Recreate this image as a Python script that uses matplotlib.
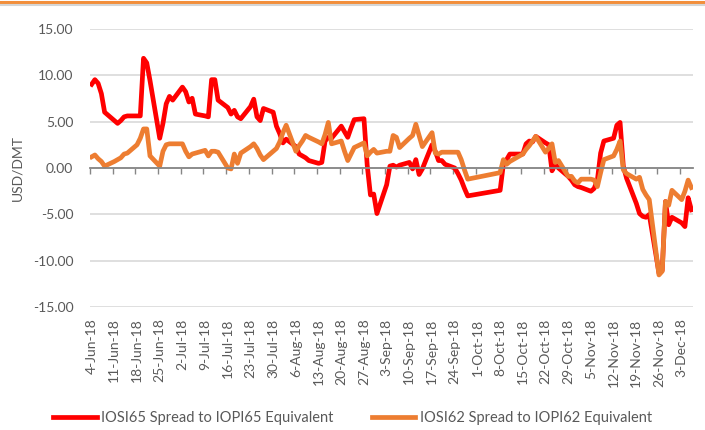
import matplotlib
matplotlib.use('Agg')
import matplotlib.pyplot as plt
import matplotlib.dates as mdates
from matplotlib.lines import Line2D
import pandas as pd

plt.rcParams['font.family'] = ['Lato', 'DejaVu Sans']

# business days, Golden Week missing from the data
holidays = ['2018-10-01', '2018-10-02', '2018-10-03', '2018-10-04', '2018-10-05']
dates = pd.bdate_range('2018-06-04', '2018-12-06')
dates = dates[~dates.isin(pd.to_datetime(holidays))]

# IOSI65 spread to IOPI65 equivalent (USD/DMT)
iosi65 = [9.0, 9.5, 9.1, 8.0, 6.0,
          5.1, 4.8, 5.1, 5.5, 5.6,
          5.6, 5.6, 11.8, 11.3, 9.4,
          3.2, 4.8, 6.9, 7.7, 7.3,
          8.7, 8.2, 7.1, 7.5, 5.8,
          5.6, 5.5, 9.5, 9.5, 7.3,
          6.5, 5.8, 6.2, 5.5, 5.3,
          6.6, 7.4, 5.5, 5.1, 6.4,
          6.0, 4.5, 3.7, 2.7, 3.1,
          2.3, 1.5, 1.3, 1.1, 0.8,
          0.5, 0.6, 2.9, 3.3, 3.2,
          4.5, 3.9, 3.3, 4.3, 5.2,
          5.3, 0.3, -2.9, -2.8, -4.9,
          -1.8, 0.2, 0.3, 0.1, 0.3,
          0.6, -0.1, 0.9, -0.7, -0.1,
          2.5, 1.8, 0.8, 0.8, 0.4,
          0.0, -0.6, -1.3, -2.2, -3.0,
          -2.4, 0.4, 0.9, 1.5, 1.5,
          1.5, 2.6, 2.9, 2.8, 3.4,
          2.7, 2.5, -0.3, 0.4, 0.0,
          -0.9, -1.3, -1.8, -2.0, -2.1,
          -2.5, -2.2, -1.3, 1.6, 2.9,
          3.2, 4.6, 4.9, 0.2, -1.1,
          -3.8, -4.9, -5.2, -5.3, -5.0,
          -11.3, -11.0, -3.6, -6.1, -5.3,
          -5.9, -6.3, -3.2, -4.5]

# IOSI62 spread to IOPI62 equivalent (USD/DMT)
iosi62 = [1.2, 1.4, 1.0, 0.7, 0.2,
          0.7, 0.9, 1.1, 1.5, 1.6,
          2.5, 3.2, 4.2, 4.2, 1.3,
          0.2, 1.8, 2.5, 2.6, 2.6,
          2.6, 1.8, 1.2, 1.5, 1.6,
          1.9, 1.3, 1.8, 1.8, 1.7,
          0.0, -0.1, 1.5, 0.5, 1.6,
          2.3, 2.6, 2.1, 1.4, 0.9,
          1.8, 2.1, 2.8, 3.8, 4.6,
          1.8, 2.4, 2.9, 3.5, 3.3,
          2.8, 2.6, 3.6, 4.9, 2.6,
          2.9, 1.8, 0.8, 1.5, 2.2,
          2.7, 1.3, 1.7, 2.0, 1.6,
          1.8, 1.8, 3.5, 3.3, 2.2,
          3.2, 3.5, 4.7, 3.5, 2.3,
          3.8, 1.6, 1.5, 1.7, 1.7,
          1.7, 1.7, 0.9, -0.2, -1.2,
          -0.5, 0.9, 0.4, 0.7, 0.9,
          1.5, 2.0, 2.4, 2.9, 3.4,
          1.7, 2.1, 2.6, 0.6, 0.8,
          -0.9, -0.9, -1.4, -1.6, -1.2,
          -1.2, -1.3, -2.0, -0.5, 0.9,
          1.3, 2.0, 2.9, -0.2, -0.6,
          -1.2, -1.0, -2.3, -2.9, -3.4,
          -11.5, -11.1, -3.6, -4.0, -2.4,
          -3.4, -2.5, -1.3, -2.1]

week_ticks = pd.date_range('2018-06-04', '2018-12-03', freq='7D')
tick_labels = [f"{d.day}-{d.strftime('%b')}-18" for d in week_ticks]
y_ticks = [-15, -10, -5, 0, 5, 10, 15]

grey_txt = '#595959'

fig = plt.figure(figsize=(7.05, 4.3), dpi=100)
ax = fig.add_axes([0.1277, 0.2849, 0.8553, 0.6488])

ax.plot(dates, iosi65, color='#FF0000', lw=3.4, solid_joinstyle='round',
        label='IOSI65 Spread to IOPI65 Equivalent')
ax.plot(dates, iosi62, color='#ED7D31', lw=3.4, solid_joinstyle='round',
        label='IOSI62 Spread to IOPI62 Equivalent')

start = mdates.date2num(pd.Timestamp('2018-06-04')) - 0.5
end = mdates.date2num(pd.Timestamp('2018-12-06')) + 0.5
ax.set_xlim(start, end)
ax.set_ylim(-15, 15)

# y axis
ax.set_yticks(y_ticks)
ax.set_yticklabels([f'{v:.2f}' for v in y_ticks])
ax.tick_params(axis='y', length=0, pad=12, labelcolor=grey_txt, labelsize=10)
ax.yaxis.grid(True, color='#D9D9D9', lw=1.2)
ax.set_axisbelow(True)
ax.set_ylabel('USD/DMT', color=grey_txt, fontsize=10)
ax.yaxis.set_label_coords(-0.11, 0.5)

for s in ['top', 'right', 'left']:
    ax.spines[s].set_visible(False)
ax.spines['bottom'].set_position(('data', 0))
ax.spines['bottom'].set_color('#868686')
ax.spines['bottom'].set_linewidth(1.3)

# tick marks on the zero line, between the daily slots
ax.set_xticks(mdates.date2num(week_ticks) - 0.5)
ax.tick_params(axis='x', direction='out', length=4, width=1, color='#868686',
               labelbottom=False)

# labels below the plot
sec = ax.secondary_xaxis('bottom')
sec.set_xticks(mdates.date2num(week_ticks))
sec.set_xticklabels(tick_labels, rotation=90)
sec.tick_params(length=0, pad=8, labelcolor=grey_txt, labelsize=10)
sec.spines['bottom'].set_visible(False)

fig.legend(loc='center', bbox_to_anchor=(0.5, 0.028), ncol=2, frameon=False,
           handlelength=3.0, columnspacing=2.6, handletextpad=0.3,
           fontsize=10.5, labelcolor=grey_txt)

# decorative band at the top
fig.add_artist(Line2D([0, 1], [1 - 1.5 / 430] * 2, transform=fig.transFigure,
                      color='#F28E3B', lw=2.2))
fig.add_artist(Line2D([0, 1], [1 - 4.5 / 430] * 2, transform=fig.transFigure,
                      color='#D5D5D5', lw=1.5))

fig.savefig('out.png', dpi=100)
